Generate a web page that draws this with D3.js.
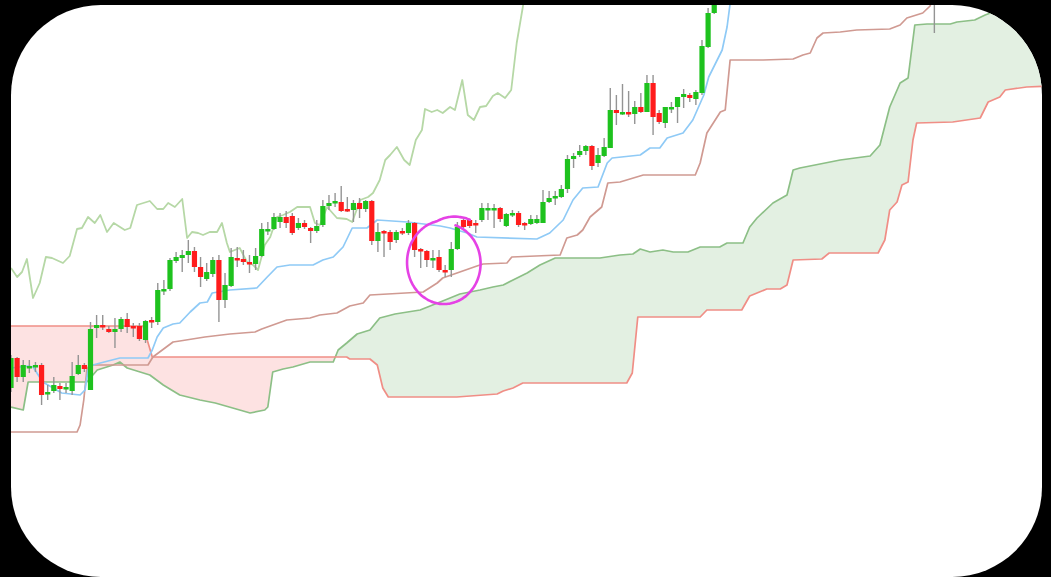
<!DOCTYPE html>
<html>
<head>
<meta charset="utf-8">
<script src="https://cdn.jsdelivr.net/npm/d3@7"></script>
<style>
  html, body { margin: 0; padding: 0; background: #000; overflow: hidden; }
</style>
</head>
<body>
<svg id="chart" width="1051" height="577"></svg>
<script>
// candles: [open, high, low, close], one per bar starting at bar 0
const candles = [
  [121.2,124.5,120.8,124.2],[124.2,124.3,121.8,122.3],[122.3,124.0,121.8,123.5],[123.2,124.0,122.7,123.4],
  [123.3,123.8,122.8,123.5],[123.5,123.7,119.5,120.5],[120.6,121.5,120.0,120.8],[120.9,122.3,120.7,121.5],
  [121.4,121.7,120.0,121.1],[121.1,121.7,120.7,121.3],[120.9,123.8,120.5,122.4],[122.6,124.5,122.5,123.5],
  [123.5,123.7,122.8,123.1],[121.0,127.8,121.0,127.1],[127.2,128.5,126.2,127.5],[127.5,128.5,127.0,127.3],
  [127.1,127.4,126.7,126.8],[126.8,128.2,125.2,127.1],[127.1,128.3,126.8,128.1],[128.1,128.7,126.7,127.3],
  [127.4,127.7,126.3,127.2],[127.4,127.7,125.9,126.1],[126.0,128.0,125.7,127.9],[128.0,128.3,127.2,127.8],
  [127.8,131.7,127.5,131.0],[131.0,132.0,130.5,131.1],[131.1,134.2,130.9,134.0],[133.9,134.8,133.7,134.3],
  [134.2,135.0,132.8,134.5],[134.5,136.0,133.7,134.9],[134.9,135.3,132.8,133.3],[133.3,134.3,131.3,132.3],
  [132.1,133.7,131.9,132.8],[132.6,134.3,132.3,134.0],[134.0,134.5,127.8,130.0],[130.0,132.7,129.2,131.5],
  [131.4,135.2,131.3,134.3],[134.2,135.3,133.3,134.0],[134.1,135.0,133.5,133.8],[133.8,134.5,132.7,133.6],
  [133.6,135.2,133.0,134.4],[134.4,137.7,134.3,137.1],[136.9,137.8,136.5,137.1],[137.1,138.7,137.0,138.3],
  [137.8,138.7,137.2,138.3],[138.3,138.9,137.2,137.7],[138.4,138.7,136.5,136.7],[137.2,138.2,137.0,137.7],
  [137.7,138.0,137.1,137.3],[137.2,137.3,135.7,136.9],[136.9,138.0,136.7,137.4],[137.5,140.0,137.3,139.4],
  [139.4,140.5,139.0,139.7],[139.7,140.7,139.3,139.9],[139.8,141.4,138.8,138.9],[139.1,140.3,138.8,138.9],
  [139.0,140.0,137.8,139.7],[139.7,140.2,138.2,139.1],[139.1,140.0,138.8,139.9],[139.9,140.0,135.5,135.9],
  [135.9,137.7,134.8,136.8],[136.9,137.0,134.3,136.7],[136.8,137.0,135.0,135.8],[136.0,137.0,135.7,136.8],
  [136.9,137.2,136.5,136.7],[136.7,138.0,136.5,137.7],[137.7,137.8,134.3,135.0],[135.1,135.2,133.2,134.9],
  [134.9,135.0,133.3,134.0],[134.0,135.0,133.2,134.2],[134.3,135.0,132.8,133.0],[133.0,133.5,132.3,132.9],
  [133.0,135.8,132.3,135.1],[135.1,137.8,135.0,137.3],[138.0,138.2,137.2,137.3],[138.0,138.1,137.2,137.4],
  [137.7,138.0,136.7,137.5],[138.0,139.7,137.8,139.2],[139.0,139.7,138.0,139.2],[139.0,139.6,137.2,139.2],
  [139.2,139.3,137.8,138.1],[137.4,138.7,137.3,138.6],[138.5,139.0,138.3,138.7],[138.7,138.9,137.3,137.5],
  [137.7,137.8,137.0,137.5],[137.6,138.5,137.5,138.1],[137.7,138.5,137.6,138.1],[137.7,141.0,137.7,139.8],
  [139.8,140.9,139.7,140.2],[140.2,140.9,139.5,140.4],[140.3,141.5,140.2,141.1],[141.1,144.5,140.7,144.1],
  [144.1,144.7,143.2,144.4],[144.5,145.5,144.3,144.9],[144.9,145.5,144.5,145.4],[145.4,145.5,143.0,143.4],
  [143.7,145.2,143.3,144.5],[144.4,146.2,144.3,145.3],[145.2,151.2,145.2,149.0],[149.0,150.5,147.5,148.7],
  [148.7,151.6,148.5,148.8],[148.8,150.9,148.3,148.6],[148.6,149.9,147.6,149.3],[149.3,150.7,148.7,148.8],
  [148.8,152.5,148.8,151.7],[151.7,152.5,146.5,148.3],[148.7,149.0,147.6,147.8],[147.7,149.3,147.2,149.3],
  [149.2,149.8,148.7,149.3],[149.3,150.3,147.7,150.3],[150.3,151.1,149.2,150.6],[150.5,150.7,149.8,150.2],
  [150.1,151.0,149.5,150.8],[150.7,156.0,150.5,155.4],[155.3,159.2,155.2,158.7],[158.7,162.0,158.6,161.5]
];

// later candle whose low wick dips into view: [bar, open, high, low, close]
const farCandles = [[151, 161.0, 163.0, 156.7, 162.5]];

// Ichimoku lines: [bar, price]
const tenkan = [
  [0,123.2],[2.8,123.4],[3.6,123.3],[5.2,121.8],[8.3,120.7],[11.3,120.5],[12.1,121.0],[12.6,123.0],
  [13.4,123.5],[14.6,123.7],[17.8,124.2],[22.4,124.2],[23.1,125.0],[23.9,126.3],[24.9,127.2],[26.5,127.6],
  [27.6,127.7],[29.3,128.8],[30.9,129.7],[32.1,129.8],[32.9,130.7],[35.8,131.0],[40.2,131.2],[41.9,132.3],
  [43.5,133.3],[45.6,133.5],[49.4,133.5],[51.0,134.0],[52.7,134.3],[54.3,135.3],[55.8,137.2],[58.2,137.2],
  [59.9,138.0],[64.8,137.8],[70.2,137.4],[71.8,137.2],[74.6,136.7],[76.2,136.3],[86.0,136.1],[88.1,136.7],
  [90.3,138.0],[91.9,140.0],[93.5,141.2],[96.0,141.3],[97.5,143.7],[98.3,144.2],[102.9,144.5],[104.5,145.2],
  [106.1,145.2],[107.3,146.2],[109.9,146.7],[111.5,148.0],[113.3,150.5],[114.1,152.3],[116.3,155.0],
  [117.1,157.3],[118.1,162.0]
];

const kijun = [
  [0,116.8],[10.8,116.8],[11.3,117.5],[11.9,120.0],[12.4,123.0],[12.8,123.5],[22.4,123.5],[23.2,124.3],
  [26.5,125.8],[27.6,125.9],[31.7,126.3],[35.8,126.6],[39.9,126.8],[41.0,127.1],[45.1,128.0],[48.9,128.2],
  [50.5,128.5],[53.3,128.7],[55.4,129.4],[57.6,129.7],[58.7,130.5],[67.4,130.8],[69.7,131.7],[70.6,132.2],
  [76.2,133.4],[77.2,133.6],[81.1,133.7],[81.9,134.3],[89.8,134.5],[90.9,136.2],[92.6,136.5],[93.5,137.0],
  [94.7,138.3],[96.6,139.3],[97.6,141.7],[99.6,141.8],[103.4,142.5],[111.9,142.5],[112.7,143.7],[113.8,146.7],
  [116.0,148.8],[116.8,149.0],[117.6,154.0],[123.0,154.0],[127.9,154.1],[129.5,154.5],[130.7,154.7],
  [131.8,156.2],[132.8,156.7],[135.6,156.8],[138.3,157.0],[143.7,157.1],[145.4,157.5],[146.5,158.2],
  [149.1,158.7],[150.3,159.4],[151.1,161.0]
];

const senkouA = [
  [0,119.3],[2.0,119.0],[2.8,121.8],[12.4,121.8],[14.1,123.0],[16.7,123.5],[17.8,123.8],[19.0,123.2],
  [22.7,122.5],[24.9,121.5],[27.6,120.5],[30.9,120.0],[33.4,119.7],[37.4,119.0],[39.1,118.7],[41.5,119.0],
  [42.0,119.3],[42.8,122.8],[44.5,123.1],[46.1,123.3],[48.9,123.8],[52.7,123.8],[53.5,125.0],[54.9,125.7],
  [56.6,126.6],[58.7,127.0],[60.3,128.2],[62.8,128.6],[66.9,129.0],[71.0,130.0],[73.4,130.6],[76.7,131.0],
  [78.8,131.3],[80.5,131.5],[82.1,132.0],[84.4,132.7],[86.5,133.5],[89.0,134.2],[96.3,134.2],[99.6,134.5],
  [101.7,134.6],[102.9,135.1],[104.5,134.8],[106.6,135.0],[108.3,134.8],[110.7,134.8],[112.7,135.3],
  [115.9,135.3],[117.1,135.7],[119.7,135.7],[120.8,137.3],[122.0,138.2],[124.6,139.7],[126.9,140.5],
  [127.9,143.0],[129.0,143.2],[135.6,144.0],[140.5,144.4],[142.1,145.5],[143.7,149.3],[145.4,151.7],
  [146.7,152.2],[147.8,157.5],[149.8,157.6],[153.6,157.6],[154.7,157.8],[157.6,158.0],[159.3,158.5],
  [160.6,158.8],[163.4,159.7],[169.9,161.5]
];

const senkouB = [
  [0,127.4],[21.6,127.4],[23.1,124.3],[54.9,124.3],[55.4,124.1],[58.7,124.1],[59.9,123.5],[60.8,121.2],
  [61.7,120.3],[72.9,120.3],[79.5,120.6],[80.5,120.9],[82.1,121.2],[83.7,121.7],[100.7,121.7],[101.6,122.7],
  [102.5,128.3],[112.7,128.3],[113.8,129.0],[119.5,129.0],[120.8,130.4],[123.6,131.1],[125.8,131.1],
  [126.9,131.5],[127.9,134.0],[132.6,134.1],[133.8,134.7],[141.8,134.7],[142.9,136.0],[143.7,139.0],
  [144.9,139.8],[145.7,141.5],[146.7,141.8],[147.5,146.0],[148.1,147.7],[154.0,147.8],[158.5,148.2],
  [159.8,149.8],[161.7,150.3],[162.6,151.0],[166.1,151.3],[169.9,151.4]
];

const chikou = [
  [0,133.2],[1.0,132.3],[1.8,132.8],[2.6,134.1],[3.6,130.2],[4.7,131.7],[5.7,134.3],[6.7,134.2],
  [8.5,133.7],[9.6,134.4],[10.8,137.1],[11.6,137.2],[12.6,138.3],[13.7,137.7],[14.6,138.5],[15.7,136.8],
  [16.8,137.7],[18.6,137.0],[19.5,137.2],[20.6,139.5],[22.7,139.9],[23.9,139.1],[24.9,139.1],[25.7,139.7],
  [26.8,139.3],[28.0,140.1],[28.8,136.2],[29.6,136.8],[30.6,136.7],[31.4,136.5],[32.5,136.8],[33.7,136.8],
  [34.5,137.7],[35.3,135.7],[35.8,134.8],[36.6,135.0],[37.4,135.2],[38.6,133.8],[39.6,133.5],[40.4,133.0],
  [41.5,135.5],[42.4,136.3],[43.5,138.3],[44.5,138.5],[45.6,138.8],[46.8,139.3],[48.9,139.3],[49.7,137.7],
  [50.5,137.5],[51.7,139.3],[53.3,138.2],[54.9,138.1],[55.8,137.8],[57.1,140.0],[58.4,140.3],[59.2,140.7],
  [60.3,142.0],[61.2,144.0],[62.0,144.5],[63.1,145.3],[64.3,144.0],[65.2,143.5],[66.2,146.0],[67.2,147.0],
  [67.7,149.1],[68.8,148.8],[69.7,149.0],[70.6,148.7],[71.8,149.3],[72.6,149.0],[73.8,152.0],[74.7,148.5],
  [75.7,148.0],[76.7,149.3],[77.7,149.4],[78.8,150.4],[79.6,150.7],[80.8,150.2],[81.8,151.0],[82.7,155.7],
  [83.7,159.3],[84.2,161.5]
];

// hand-drawn ring around the pullback (centre bar/price, radius in bars/price)
const ringMark = { bar: 70.9, price: 133.7, rBars: 6.3, rPrice: 4.3 };

const W = 1051, H = 577;
const svg = d3.select("#chart");

const x = d3.scaleLinear().domain([0, 170]).range([11, 11 + 170 * 6.115]);
const y = d3.scaleLinear().domain([102.3, 160]).range([H, 0]);

const defs = svg.append("defs");
defs.append("clipPath").attr("id", "card")
  .append("rect")
  .attr("x", 11).attr("y", 5).attr("width", 1031).attr("height", 572)
  .attr("rx", 90).attr("ry", 90);

// clip regions for the cloud fill
const aboveArea = d3.area().x(d => x(d[0])).y0(0).y1(d => y(d[1]));
const belowArea = d3.area().x(d => x(d[0])).y0(H).y1(d => y(d[1]));

defs.append("clipPath").attr("id", "aboveB").append("path").attr("d", aboveArea(senkouB));
defs.append("clipPath").attr("id", "aboveA").append("path").attr("d", aboveArea(senkouA));

// card
svg.append("rect")
  .attr("x", 11).attr("y", 5).attr("width", 1031).attr("height", 572)
  .attr("rx", 90).attr("ry", 90)
  .attr("fill", "#fff");

const g = svg.append("g").attr("clip-path", "url(#card)");

// cloud
g.append("g").attr("clip-path", "url(#aboveB)")
  .append("path").attr("d", belowArea(senkouA)).attr("fill", "#e3f0e2");
g.append("g").attr("clip-path", "url(#aboveA)")
  .append("path").attr("d", belowArea(senkouB)).attr("fill", "#fde2e2");

const line = d3.line().x(d => x(d[0])).y(d => y(d[1]));

const drawLine = (data, color, w) => g.append("path")
  .datum(data)
  .attr("d", line)
  .attr("fill", "none")
  .attr("stroke", color)
  .attr("stroke-width", w)
  .attr("stroke-linejoin", "round");

drawLine(senkouA, "#8cbf86", 1.7);
drawLine(senkouB, "#f08e86", 1.7);
drawLine(chikou, "#b6d8a6", 1.8);
drawLine(kijun, "#d09a92", 1.7);
drawLine(tenkan, "#8fcaf6", 1.7);

// candles
const bars = candles.map((d, i) => ({ bar: i, o: d[0], h: d[1], l: d[2], c: d[3] }))
  .concat(farCandles.map(d => ({ bar: d[0], o: d[1], h: d[2], l: d[3], c: d[4] })));

const bodyW = (x(1) - x(0)) * 0.85;

g.append("g").selectAll("line")
  .data(bars)
  .join("line")
  .attr("x1", d => x(d.bar)).attr("x2", d => x(d.bar))
  .attr("y1", d => y(d.h)).attr("y2", d => y(d.l))
  .attr("stroke", "#949494")
  .attr("stroke-width", 1.4);

g.append("g").selectAll("rect")
  .data(bars)
  .join("rect")
  .attr("x", d => x(d.bar) - bodyW / 2)
  .attr("y", d => y(Math.max(d.o, d.c)))
  .attr("width", bodyW)
  .attr("height", d => Math.max(2.5, Math.abs(y(d.o) - y(d.c))))
  .attr("fill", d => d.c >= d.o ? "#1ec21e" : "#ff1c1c");

// ring annotation
const cx = x(ringMark.bar), cy = y(ringMark.price);
const rx = x(ringMark.bar + ringMark.rBars) - cx;
const ry = y(ringMark.price - ringMark.rPrice) - cy;
const ringPts = d3.range(0, 376, 3).map(s => {
  const a = (-57 - s) * Math.PI / 180;
  const k = 1 + 0.2 * Math.max(0, 1 - s / 45) - 0.08 * (s / 375);
  return [cx + rx * k * Math.cos(a), cy + ry * k * Math.sin(a)];
});
g.append("path")
  .attr("d", d3.line().curve(d3.curveBasis)(ringPts))
  .attr("fill", "none")
  .attr("stroke", "#e542e5")
  .attr("stroke-width", 2.6)
  .attr("stroke-linecap", "round");
</script>
</body>
</html>
